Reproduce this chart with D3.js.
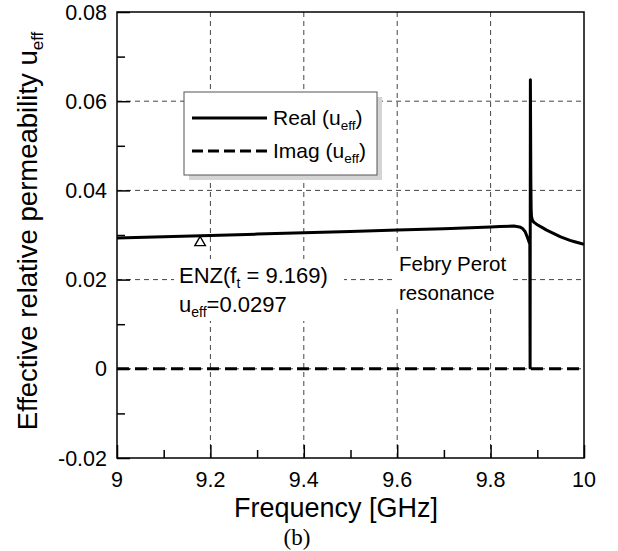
<!DOCTYPE html>
<html>
<head>
<meta charset="utf-8">
<script src="https://cdn.jsdelivr.net/npm/d3@7/dist/d3.min.js"></script>
<style>
html,body{margin:0;padding:0;background:#fff;}
svg{display:block;}
text{font-family:"Liberation Sans",Arial,sans-serif;fill:#000;}
</style>
</head>
<body>
<svg id="chart" width="618" height="551"></svg>
<script>
// ---- data ----
const realFreq = [9.00, 9.10, 9.20, 9.30, 9.40, 9.50, 9.60, 9.70, 9.80, 9.82, 9.85, 9.862, 9.868, 9.8737, 9.878, 9.8808, 9.8825, 9.884,
                  9.8846, 9.8852, 9.8862, 9.8868, 9.8875, 9.889, 9.892, 9.896, 9.900, 9.910, 9.920, 9.930, 9.940, 9.950, 9.960, 9.970, 9.980, 9.990, 10.00];
const realVal  = [0.0293, 0.0296, 0.0299, 0.0302, 0.0305, 0.0308, 0.0311, 0.0314, 0.0318, 0.0319, 0.0320, 0.0318, 0.0315, 0.0308, 0.0297, 0.0289, 0.0284, 0.0280,
                  0.0002, 0.0648, 0.0420, 0.0360, 0.0342, 0.0335, 0.0329, 0.0326, 0.0323, 0.0317, 0.0311, 0.0306, 0.0301, 0.0296, 0.0292, 0.0288, 0.0285, 0.0282, 0.0279];
const imagFreq = [9.0, 9.1, 9.2, 9.3, 9.4, 9.5, 9.6, 9.7, 9.8, 9.9, 10.0];
const imagVal  = [0, 0, 0, 0, 0, 0, 0, 0, 0, 0, 0];
const xTicks = [9, 9.2, 9.4, 9.6, 9.8, 10];
const xTickLabels = ["9", "9.2", "9.4", "9.6", "9.8", "10"];
const xMinor = [9.1, 9.3, 9.5, 9.7, 9.9];
const yTicks = [-0.02, 0, 0.02, 0.04, 0.06, 0.08];
const yTickLabels = ["-0.02", "0", "0.02", "0.04", "0.06", "0.08"];
const yMinor = [-0.01, 0.01, 0.03, 0.05, 0.07];
const enzPoint = [9.178, 0.0283];
const legendLabels = ["Real (u", "Imag (u"];

// ---- layout ----
const svg = d3.select("#chart");
const L = 117, R = 584, T = 12, B = 458;
const x = d3.scaleLinear().domain([9, 10]).range([L, R]);
const y = d3.scaleLinear().domain([-0.02, 0.08]).range([B, T]);

svg.append("defs").append("clipPath").attr("id", "clip")
  .append("rect").attr("x", L).attr("y", T).attr("width", R - L).attr("height", B - T);

// gridlines
const grid = svg.append("g").attr("stroke", "#444").attr("stroke-width", 1).attr("stroke-dasharray", "5,4");
grid.selectAll("line.vx").data(xTicks.filter(d => d > 9 && d < 10)).join("line")
  .attr("x1", d => x(d)).attr("x2", d => x(d)).attr("y1", T).attr("y2", B);
grid.selectAll("line.hy").data(yTicks.filter(d => d > -0.02 && d < 0.08)).join("line")
  .attr("y1", d => y(d)).attr("y2", d => y(d)).attr("x1", L).attr("x2", R);

// white backgrounds of annotations (they hide gridlines)
svg.append("rect").attr("x", 174).attr("y", 259).attr("width", 170).attr("height", 62).attr("fill", "#fff");
svg.append("rect").attr("x", 394).attr("y", 251).attr("width", 117).attr("height", 55).attr("fill", "#fff");

// axes with inward ticks
const axB = d3.axisBottom(x).tickValues(xTicks).tickSize(-13).tickFormat("");
const axBm = d3.axisBottom(x).tickValues(xMinor).tickSize(-8).tickFormat("");
const axL = d3.axisLeft(y).tickValues(yTicks).tickSize(-13).tickFormat("");
const axLm = d3.axisLeft(y).tickValues(yMinor).tickSize(-8).tickFormat("");
function styleAxis(g){ g.select(".domain").remove(); g.selectAll("line").attr("stroke","#000").attr("stroke-width",1.5); }
svg.append("g").attr("transform", `translate(0,${B})`).call(axB).call(styleAxis);
svg.append("g").attr("transform", `translate(0,${B})`).call(axBm).call(styleAxis);
svg.append("g").attr("transform", `translate(${L},0)`).call(axL).call(styleAxis);
svg.append("g").attr("transform", `translate(${L},0)`).call(axLm).call(styleAxis);

// tick labels
svg.append("g").selectAll("text").data(xTicks).join("text")
  .attr("x", d => x(d)).attr("y", B + 29).attr("text-anchor", "middle")
  .attr("font-size", 21.5).text((d, i) => xTickLabels[i]);
svg.append("g").selectAll("text").data(yTicks).join("text")
  .attr("x", L - 10).attr("y", d => y(d) + 7.5).attr("text-anchor", "end")
  .attr("font-size", 21.5).text((d, i) => yTickLabels[i]);

// lines
const line = d3.line().x(d => x(d[0])).y(d => y(d[1]));
const plot = svg.append("g").attr("clip-path", "url(#clip)");
plot.append("path").datum(imagFreq.map((f, i) => [f, imagVal[i]]))
  .attr("d", line).attr("fill", "none").attr("stroke", "#000").attr("stroke-width", 3).attr("stroke-dasharray", "12,6");
plot.append("path").datum(realFreq.map((f, i) => [f, realVal[i]]))
  .attr("d", line).attr("fill", "none").attr("stroke", "#000").attr("stroke-width", 3).attr("stroke-linejoin", "round");

// ENZ marker
svg.append("path").attr("d", d3.symbol(d3.symbolTriangle, 48)())
  .attr("transform", `translate(${x(enzPoint[0])},${y(enzPoint[1])})`)
  .attr("fill", "#fff").attr("stroke", "#000").attr("stroke-width", 1.4);

// frame
svg.append("rect").attr("x", L).attr("y", T).attr("width", R - L).attr("height", B - T)
  .attr("fill", "none").attr("stroke", "#000").attr("stroke-width", 1.5);

// legend
const lg = svg.append("g");
lg.append("rect").attr("x", 189).attr("y", 97).attr("width", 193).attr("height", 83).attr("fill", "#d4d4d4");
lg.append("rect").attr("x", 184).attr("y", 92).attr("width", 193).attr("height", 83).attr("fill", "#fff").attr("stroke", "#555").attr("stroke-width", 1);
[0, 1].forEach(i => {
  const yy = 118 + i * 33;
  lg.append("line").attr("x1", 192).attr("x2", 267).attr("y1", yy).attr("y2", yy)
    .attr("stroke", "#000").attr("stroke-width", 3).attr("stroke-dasharray", i ? "11,5" : null);
  const t = lg.append("text").attr("x", 273).attr("y", yy + 7).attr("font-size", 21);
  t.append("tspan").text(legendLabels[i]);
  t.append("tspan").attr("font-size", 13.5).attr("dy", 5).text("eff");
  t.append("tspan").attr("dy", -5).text(")");
});

// annotations
const a1 = svg.append("text").attr("x", 179).attr("y", 283).attr("font-size", 22);
a1.append("tspan").text("ENZ(f");
a1.append("tspan").attr("font-size", 14).attr("dy", 5).text("t");
a1.append("tspan").attr("dy", -5).text(" = 9.169)");
const a2 = svg.append("text").attr("x", 179).attr("y", 312).attr("font-size", 22);
a2.append("tspan").text("u");
a2.append("tspan").attr("font-size", 14).attr("dy", 5).text("eff");
a2.append("tspan").attr("dy", -5).text("=0.0297");
svg.append("text").attr("x", 399).attr("y", 271).attr("font-size", 20.5).text("Febry Perot");
svg.append("text").attr("x", 399).attr("y", 300).attr("font-size", 20.5).text("resonance");

// axis titles
svg.append("text").attr("x", 336).attr("y", 517).attr("text-anchor", "middle").attr("font-size", 27).text("Frequency [GHz]");
const yt = svg.append("text").attr("transform", "translate(37,231) rotate(-90)").attr("text-anchor", "middle").attr("font-size", 27.5);
yt.append("tspan").text("Effective relative permeability u");
yt.append("tspan").attr("font-size", 17).attr("dy", 6).text("eff");
svg.append("text").attr("x", 297).attr("y", 545).attr("text-anchor", "middle")
  .style("font-family", "'Liberation Serif','DejaVu Serif',serif").attr("font-size", 23).text("(b)");
</script>
</body>
</html>
